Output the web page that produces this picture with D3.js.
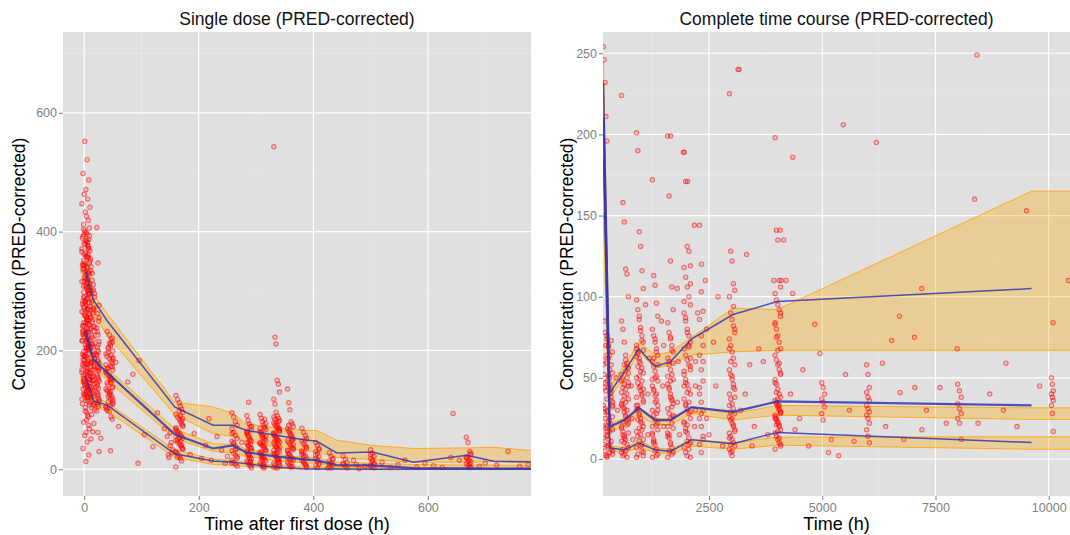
<!DOCTYPE html>
<html>
<head>
<meta charset="utf-8">
<script src="https://cdn.jsdelivr.net/npm/d3@7"></script>
<style>
  body { margin: 0; background: #fff; }
  svg { display: block; font-family: "Liberation Sans", Arial, sans-serif; }
</style>
</head>
<body>
<svg id="chart" width="1070" height="535"></svg>
<script>
// ---------- single dose panel: observations (sampling times cycle through each list) ----------
const sdTimes0 = [1, 5, -2, 8, 3, 0, 6, -4, 10, 2, 4, 7, -1, 9];
const sdConc0 = [552,521,498,487,471,463,455,447,441,433,426,419,412,406,401,396,392,387,384,380,377,371,368,364,359,356,351,347,344,339,336,331,328,324,319,316,312,309,305,301,298,294,291,287,283,280,276,272,269,265,262,258,255,251,247,244,240,237,233,230,226,223,219,216,212,209,205,202,198,195,191,188,184,181,177,174,170,167,163,160,156,153,149,146,142,139,135,132,128,125,121,118,112,104,96,88,79,68,57,46,35,24,13,395,382,366,350,333,318,302,289,274,259,246,231,218,204,190,177,163,150,137,124,371,343,307,281,252,227,199,171,146,133];
const sdTimes0b = [3, -3, 7, 0, 11, 5, -1, 9, 2, 6, 4, 8];
const sdConc0b = [398,389,375,362,354,341,338,327,322,314,306,296,285,278,270,263,256,249,242,235,228,221,214,207,200,193,186,179,172,165,158,151,144,137,130,123,116,110,361,347,334,321,308,295,282,269,256,243,230,217,204,191,178,165,152,139,126,115,386,372,358,344,330,316,302,288,274,260,246,232,218,204,190,176,162,148,134,120,404,393,379,357,313,297,267,241,211,183,157,141,127,108,98,91,83,74,62];
const sdTimes12 = [12, 14, 16, 18, 13, 17, 15];
const sdConc12 = [341,318,302,290,281,272,263,255,248,240,232,226,219,211,205,198,192,186,179,173,167,161,155,149,144,138,132,127,121,115,108,100,92,77,63,51,300,270,240,210,180,150,125,330,311,296,284,268,252,237,222,207,194,181,169,157,146,135,123,111,103];
const sdTimes24 = [22, 24, 26, 23, 25];
const sdConc24 = [407,347,276,262,249,238,226,215,206,198,191,184,178,172,166,160,154,148,142,136,130,124,118,112,106,98,62,30,200,170,145,120,255,231,210,193,181,169,157,151,139,127,115,109];
const sdTimes48 = [40, 44, 47, 49, 46, 42, 50, 38];
const sdConc48 = [232,226,219,214,208,203,199,194,190,186,182,178,174,171,167,163,160,156,153,149,146,142,139,135,132,128,125,121,118,114,110,106,102,97,88,84,31,205,185,165,145,125,108,221,211,196,188,176,169,158,151,137,130,123,116,104,99,212,192,172,152,132,112];
const sdTimes168 = [160, 163, 166, 168, 170, 172];
const sdConc168 = [124,118,112,106,101,96,92,88,84,80,76,72,68,64,61,58,55,52,49,46,43,40,37,34,30,26,22,18,14,85,70,50,98,90,82,74,66,59,53,47,41,35,28,20];
const sdTimes264 = [258, 261, 264, 267];
const sdConc264 = [95,88,80,74,68,62,57,52,47,43,39,35,31,27,23,19,15,12,8,5,60,45,33,21,10];
const sdTimes288 = [284, 286, 288, 290, 292];
const sdConc288 = [90,82,76,71,66,62,58,54,50,47,44,41,38,35,32,29,26,23,20,17,14,11,8,5,2,60,40,25,12,73,64,56,49,42,36,30,24,18,13,7];
const sdTimes312 = [307, 309, 311, 313, 315, 317];
const sdConc312 = [92,86,80,75,71,67,63,60,57,54,51,48,45,42,40,37,34,31,28,25,23,20,17,14,11,8,5,2,70,55,43,30,18,6,84,77,69,62,53,46,39,33,27,21,15,9,4];
const sdTimes336 = [331, 333, 335, 337, 339, 341];
const sdConc336 = [543,222,211,150,143,130,118,110,96,90,86,82,78,75,72,69,66,63,60,57,55,52,49,46,44,41,38,35,33,30,27,24,21,19,16,13,10,7,4,2,80,68,58,48,38,28,18,8,88,84,79,74,70,65,61,56,51,47,42,37,32,26,22,15,11,5,3];
const sdTimes360 = [355, 357, 359, 361, 363, 365];
const sdConc360 = [135,112,100,80,76,72,68,64,60,57,54,51,48,45,42,39,36,33,30,27,24,21,18,15,12,9,6,3,50,35,20,74,66,58,49,41,32,26,17,11,5];
const sdTimes384 = [380, 383, 386, 388];
const sdConc384 = [69,62,57,52,47,43,39,35,31,27,23,19,15,11,7,3,25,13,49,37,29,21,9,5];
const sdTimes408 = [404, 407, 410];
const sdConc408 = [45,40,35,30,26,22,18,14,10,6,3,33,24,16,8];
const sdTimes432 = [428, 431, 434];
const sdConc432 = [28,22,18,14,10,7,4,2,16,9];
const sdTimes456 = [452, 456, 459];
const sdConc456 = [22,17,12,8,5,2,10];
const sdTimes504 = [500, 503, 506];
const sdConc504 = [33,27,22,18,14,10,7,4,2,25,16,9,5];
const sdTimes672 = [667, 670, 673, 675];
const sdConc672 = [54,45,30,25,21,18,15,12,9,6,3,27,19,13,8,4];
const sdScatter = [[29,52],[55,180],[60,72],[76,147],[85,160],[94,10],[96,183],[105,58],[120,38],[128,95],[140,68],[147,24],[150,62],[152,45],[155,33],[160,4],[148,20],
  [185,25],[192,60],[205,18],[212,40],[222,15],[232,55],[240,32],[246,10],[218,85],[287,113],[250,22],[275,45],[145,55],[150,40],[153,28],
  [475,8],[490,5],[520,12],[535,3],[548,8],[560,15],[580,4],[595,10],[610,6],[625,3],[640,20],[644,94],[655,15],[690,5],[700,10],[720,7],[740,30],[760,5],[775,8],[425,2],[470,15],[480,1]];

// single dose: binned percentiles (observed) and simulated confidence bands
const sdBinTime = [2, 16, 40, 158, 225, 260, 281, 330, 380, 406, 441, 503, 575, 668, 715, 786];
const sdObs95 = [335, 285, 250, 105, 74, 74, 66, 58, 50, 47, 27.5, 29, 12, 23.6, 13.5, 12.6];
const sdObs50 = [234, 185, 163, 59, 35, 40, 29, 22, 17, 15, 7, 6.5, 2, 1.5, 1, 1];
const sdObs05 = [158, 115, 108, 26, 14, 12, 9.5, 4, 1, 0.5, 0.3, 0.2, 0, 0, 0, 0];
const sdBandTime = [-7, 2, 16, 40, 158, 225, 260, 281, 330, 380, 406, 441, 503, 575, 668, 715, 786];
const sdHi95 = [347, 347, 295, 262, 113, 105, 94, 77, 70, 66, 65, 49, 40, 35, 36, 37, 31];
const sdLo95 = [330, 330, 262, 225, 92, 60, 55, 48, 38, 32, 29, 20, 16, 12, 12, 13, 10];
const sdHi50 = [234, 234, 192, 170, 68, 43, 42, 35, 26, 20, 19, 12, 10, 8, 7, 7, 6];
const sdLo50 = [226, 226, 172, 150, 52, 30, 28, 22, 15, 11, 10, 5, 4, 2.5, 2, 2, 2];
const sdHi05 = [156, 156, 122, 112, 33, 17, 15, 12, 7, 4, 3.5, 3, 2.5, 2, 2, 1.5, 1.5];
const sdLo05 = [144, 144, 105, 98, 20, 8, 7, 5, 2, 0.5, 0, 0, 0, 0, 0, 0, 0];

// ---------- complete time course panel ----------
const ctTimes0 = [165, 185, 205, 225, 245];
const ctConc0 = [254,246,232,211,196,150,85,78,70,64,58,52,47,42,37,33,29,25,21,17,13,9,5,2,74,61,44,31,19,8];
const ctTimes310 = [250, 280, 310, 340, 370];
const ctConc310 = [76,70,64,58,53,48,44,40,36,33,30,27,24,21,18,15,12,9,6,3,1,62,50,38,26,14,8,4,73,66,59,51,46,41,35,29,23,17,11,5,2,69,55,43,32,20];
const ctTimes640 = [570, 600, 630, 660, 690, 720];
const ctConc640 = [224,158,146,117,114,100,85,80,72,64,59,56,52,49,46,43,40,37,34,32,29,27,24,22,19,17,14,12,9,7,4,2,58,54,50,45,41,36,31,26,21,16,11,6,3,61,57,53,48,44,39,35,30,25,20,15,10,5,1,47,33,23,13];
const ctTimes950 = [900, 930, 960, 990, 1020, 1050];
const ctConc950 = [201,190,140,131,116,105,98,92,86,81,76,72,68,65,62,59,56,53,50,47,44,42,39,36,33,31,28,25,22,20,17,14,11,8,5,2,70,66,60,54,48,43,38,33,27,23,18,12,7,3,88,79,73,67,63,57,51,45,40,35,30,24,19,15,9,4,1];
const ctTimes1310 = [1250, 1280, 1310, 1340, 1370];
const ctConc1310 = [172,113,107,96,88,80,76,72,68,64,60,57,54,51,48,45,42,39,36,33,30,27,24,21,18,15,12,9,6,3,1,62,50,40,30,20,10,74,66,58,49,43,35,28,22,16,11,5,2];
const ctTimes1650 = [1590, 1620, 1650, 1680, 1710];
const ctConc1650 = [199,162,122,106,92,84,78,74,70,66,62,58,55,52,49,46,43,40,37,34,31,28,25,22,19,16,13,10,7,4,1,60,48,36,26,14,5,75,67,59,51,44,38,32,27,20,15,9,3];
const ctTimes2000 = [1950, 1985, 2020, 2055, 2090];
const ctConc2000 = [189,171,131,128,119,118,112,106,100,95,90,85,80,76,72,68,64,61,58,55,52,49,46,43,40,37,34,31,28,25,22,19,16,13,10,7,4,2,70,57,45,33,21,9,108,97,87,78,69,62,54,47,41,35,29,23,17,11,6,1];
const ctTimes2330 = [2290, 2330, 2370];
const ctConc2330 = [144,103,91,86,76,70,64,55,48,40,35,30,25,20,14,9,4,60,44,28,12];
const ctTimes3000 = [2950, 2980, 3010, 3040, 3070];
const ctConc3000 = [225,128,122,108,104,100,90,86,82,78,74,70,66,62,58,55,52,49,46,43,40,37,34,31,28,26,24,22,20,18,16,14,12,10,8,6,4,2,94,80,68,60,51,44,38,33,29,25,21,17,13,9,5];
const ctTimes4000 = [3960, 3990, 4020, 4050, 4080];
const ctConc4000 = [198,141,135,110,106,102,98,95,92,88,84,80,76,72,68,64,61,58,55,52,49,46,43,40,38,36,34,32,30,28,26,24,22,20,18,16,14,12,10,8,6,35,33,31,29,27,25,23,21,90,83,75,67,59,53,47,41,37,33,29,25,21,17,13,9];
const ctTimes5000 = [4990, 5020, 5050];
const ctConc5000 = [47,44,40,37,35,32,28,24];
const ctTimes6000 = [5980, 6010, 6040];
const ctConc6000 = [58,52,44,41,38,36,33,31,29,27,25,22,18,14,10];
const ctTimes8000 = [7990, 8030, 8070];
const ctConc8000 = [46,42,38,34,31,28,25,22,12];
const ctTimes10000 = [10060, 10080, 10100];
const ctConc10000 = [50,46,42,40,38,36,33,28,17];
const ctScatter = [[1656,199],[1937,189],[2027,171],[2178,144],[2337,120],[3140,240],[3165,240],[4348,186],[4070,141],[4150,135],[5463,206],[6194,195],[8417,249],[8364,160],[9510,153],[3330,126],[2700,100],[3932,110],[4100,110],[4200,110],[4346,102],[4836,83],[6705,88],[7037,75],[6532,73],[7195,105],[7979,68],[9057,59],[10096,84],[10435,110],[8440,22],[7738,22],[6328,59],[7044,44],[6720,41],[4572,55],[4949,65],[5138,4],[5364,2],[5703,11],[5514,52],[480,30],[800,25],[1150,40],[1500,20],[1800,35],[2200,60],[2500,15],[2650,45],[2800,8],[3200,30],[3500,20],[3700,60],[4300,40],[4500,25],[4700,8],[5200,12],[6800,12],[7300,30],[7600,44],[9000,30],[9300,20],[9800,45],[2600,72],[3600,68],[3400,58],[3300,40],[1100,95],[1450,85],[1800,105],[2250,90],[2450,80],[2200,30],[3450,8],[3800,15],[4400,18],[5600,30],[6400,20],[7200,18],[8700,40],[2420,110],
  [450,50],[780,45],[820,12],[1150,15],[1180,62],[1480,45],[1500,70],[1820,60],[1850,15],[2180,20],[2200,45],[2450,25]];

const ctBinTime = [170, 310, 640, 950, 1310, 1650, 2120, 3030, 4010, 9620];
const ctObs95 = [232, 41, 54, 68, 57, 60, 74, 89, 97, 105];
const ctObs50 = [210, 20, 24, 31.5, 24, 24, 32, 29, 35.5, 33];
const ctObs05 = [185, 6.8, 5.7, 9.8, 5.7, 4.7, 11.9, 9.4, 16.4, 10.2];
const ctBandTime = [170, 310, 640, 950, 1310, 1650, 2120, 3030, 4010, 9620, 10600];
const ctHi95 = [245, 45, 58, 72, 64, 66, 75, 93, 92, 165, 165];
const ctLo95 = [200, 38, 50, 66, 56, 58, 64, 66, 67, 67, 67];
const ctHi50 = [225, 22, 25, 32, 25, 25, 32, 28, 33, 31.5, 31.5];
const ctLo50 = [185, 17, 20, 27, 21, 21, 28, 24, 27, 24.4, 24.4];
const ctHi05 = [195, 8, 7, 11, 7, 6, 12, 10, 13.5, 13.7, 13.7];
const ctLo05 = [150, 5, 4, 7, 4, 3, 8, 6, 8.5, 6, 6];

// helper: pair each concentration with a sampling time from its cluster's list
function cluster(times, conc) {
  return conc.map((c, i) => [times[i % times.length], c]);
}

const sdPoints = [].concat(
  cluster(sdTimes0, sdConc0), cluster(sdTimes0b, sdConc0b), cluster(sdTimes12, sdConc12),
  cluster(sdTimes24, sdConc24), cluster(sdTimes48, sdConc48), cluster(sdTimes168, sdConc168),
  cluster(sdTimes264, sdConc264), cluster(sdTimes288, sdConc288), cluster(sdTimes312, sdConc312),
  cluster(sdTimes336, sdConc336), cluster(sdTimes360, sdConc360), cluster(sdTimes384, sdConc384),
  cluster(sdTimes408, sdConc408), cluster(sdTimes432, sdConc432), cluster(sdTimes456, sdConc456),
  cluster(sdTimes504, sdConc504), cluster(sdTimes672, sdConc672), sdScatter);

const ctPoints = [].concat(
  cluster(ctTimes0, ctConc0), cluster(ctTimes310, ctConc310), cluster(ctTimes640, ctConc640),
  cluster(ctTimes950, ctConc950), cluster(ctTimes1310, ctConc1310), cluster(ctTimes1650, ctConc1650),
  cluster(ctTimes2000, ctConc2000), cluster(ctTimes2330, ctConc2330), cluster(ctTimes3000, ctConc3000),
  cluster(ctTimes4000, ctConc4000), cluster(ctTimes5000, ctConc5000), cluster(ctTimes6000, ctConc6000),
  cluster(ctTimes8000, ctConc8000), cluster(ctTimes10000, ctConc10000), ctScatter);

const svg = d3.select("#chart");

function drawPanel(p) {
  const x = d3.scaleLinear().domain(p.xDomain).range([p.left, p.right]);
  const y = d3.scaleLinear().domain(p.yDomain).range([p.bottom, p.top]);
  const w = p.right - p.left, h = p.bottom - p.top;

  svg.append("clipPath").attr("id", p.id + "clip")
    .append("rect").attr("x", p.left).attr("y", p.top).attr("width", w).attr("height", h);

  svg.append("rect")
    .attr("x", p.left).attr("y", p.top).attr("width", w).attr("height", h)
    .attr("fill", "#e0e0e0");

  // grid
  const grid = svg.append("g");
  grid.selectAll(".vmin").data(p.xMinor).enter().append("line")
    .attr("x1", d => x(d)).attr("x2", d => x(d)).attr("y1", p.top).attr("y2", p.bottom)
    .attr("stroke", "#ebebeb").attr("stroke-width", 0.6);
  grid.selectAll(".hmin").data(p.yMinor).enter().append("line")
    .attr("y1", d => y(d)).attr("y2", d => y(d)).attr("x1", p.left).attr("x2", p.right)
    .attr("stroke", "#ebebeb").attr("stroke-width", 0.6);
  grid.selectAll(".vmaj").data(p.xTicks).enter().append("line")
    .attr("x1", d => x(d)).attr("x2", d => x(d)).attr("y1", p.top).attr("y2", p.bottom)
    .attr("stroke", "#fff").attr("stroke-width", 1.2);
  grid.selectAll(".hmaj").data(p.yTicks).enter().append("line")
    .attr("y1", d => y(d)).attr("y2", d => y(d)).attr("x1", p.left).attr("x2", p.right)
    .attr("stroke", "#fff").attr("stroke-width", 1.2);

  const plot = svg.append("g").attr("clip-path", "url(#" + p.id + "clip)");

  // simulated confidence bands
  p.bands.forEach(b => {
    const rows = p.bandTime.map((t, i) => ({t: t, lo: b[0][i], hi: b[1][i]}));
    plot.append("path").datum(rows)
      .attr("d", d3.area().x(d => x(d.t)).y0(d => y(d.lo)).y1(d => y(d.hi)))
      .attr("fill", "orange").attr("fill-opacity", 0.33);
    ["lo", "hi"].forEach(k => {
      plot.append("path").datum(rows)
        .attr("d", d3.line().x(d => x(d.t)).y(d => y(d[k])))
        .attr("fill", "none").attr("stroke", "orange").attr("stroke-opacity", 0.85)
        .attr("stroke-width", 1);
    });
  });

  // observations
  plot.append("g").selectAll("circle").data(p.points).enter().append("circle")
    .attr("cx", d => x(d[0])).attr("cy", d => y(d[1])).attr("r", 2.2)
    .attr("fill", "red").attr("fill-opacity", 0.14)
    .attr("stroke", "red").attr("stroke-opacity", 0.5)
    .attr("stroke-width", 1.1);

  // observed percentile lines
  p.lines.forEach((vals, i) => {
    const rows = p.binTime.map((t, j) => [t, vals[j]]);
    plot.append("path").datum(rows)
      .attr("d", d3.line().x(d => x(d[0])).y(d => y(d[1])))
      .attr("fill", "none").attr("stroke", "#3535b0").attr("stroke-opacity", 0.85)
      .attr("stroke-width", i === 1 ? 2.2 : 1.5);
  });

  // axes
  const xAxis = svg.append("g").attr("transform", "translate(0," + p.bottom + ")")
    .call(d3.axisBottom(x).tickValues(p.xTicks).tickFormat(d3.format("d")).tickSize(4).tickPadding(3));
  const yAxis = svg.append("g").attr("transform", "translate(" + p.left + ",0)")
    .call(d3.axisLeft(y).tickValues(p.yTicks).tickFormat(d3.format("d")).tickSize(4).tickPadding(2));
  [xAxis, yAxis].forEach(a => {
    a.select(".domain").remove();
    a.selectAll(".tick line").attr("stroke", "#7f7f7f");
    a.selectAll(".tick text").attr("fill", "#7f7f7f").style("font-size", "12.5px")
      .style("font-family", "Liberation Sans, Arial, sans-serif");
  });

  const cx = (p.left + p.right) / 2;
  svg.append("text").attr("x", cx).attr("y", 25).attr("text-anchor", "middle")
    .style("font-size", "17.5px").attr("fill", "#111").text(p.title);
  svg.append("text").attr("x", cx).attr("y", 530).attr("text-anchor", "middle")
    .style("font-size", "18px").attr("fill", "#000").text(p.xTitle);
  svg.append("text")
    .attr("transform", "translate(" + p.yTitleX + "," + ((p.top + p.bottom) / 2) + ") rotate(-90)")
    .attr("text-anchor", "middle").style("font-size", "17.5px").attr("fill", "#000")
    .text("Concentration (PRED-corrected)");
}

drawPanel({
  id: "sd", left: 63, right: 531, top: 32, bottom: 496,
  xDomain: [-37, 780], yDomain: [-45, 736],
  xTicks: [0, 200, 400, 600], xMinor: [100, 300, 500, 700],
  yTicks: [0, 200, 400, 600], yMinor: [100, 300, 500, 700],
  title: "Single dose (PRED-corrected)", xTitle: "Time after first dose (h)", yTitleX: 25,
  points: sdPoints, binTime: sdBinTime, lines: [sdObs95, sdObs50, sdObs05],
  bandTime: sdBandTime, bands: [[sdLo95, sdHi95], [sdLo50, sdHi50], [sdLo05, sdHi05]]
});

drawPanel({
  id: "ct", left: 603, right: 1070, top: 32, bottom: 496,
  xDomain: [160, 10470], yDomain: [-22.8, 263.1],
  xTicks: [2500, 5000, 7500, 10000], xMinor: [1250, 3750, 6250, 8750],
  yTicks: [0, 50, 100, 150, 200, 250], yMinor: [25, 75, 125, 175, 225],
  title: "Complete time course (PRED-corrected)", xTitle: "Time (h)", yTitleX: 573,
  points: ctPoints, binTime: ctBinTime, lines: [ctObs95, ctObs50, ctObs05],
  bandTime: ctBandTime, bands: [[ctLo95, ctHi95], [ctLo50, ctHi50], [ctLo05, ctHi05]]
});
</script>
</body>
</html>
